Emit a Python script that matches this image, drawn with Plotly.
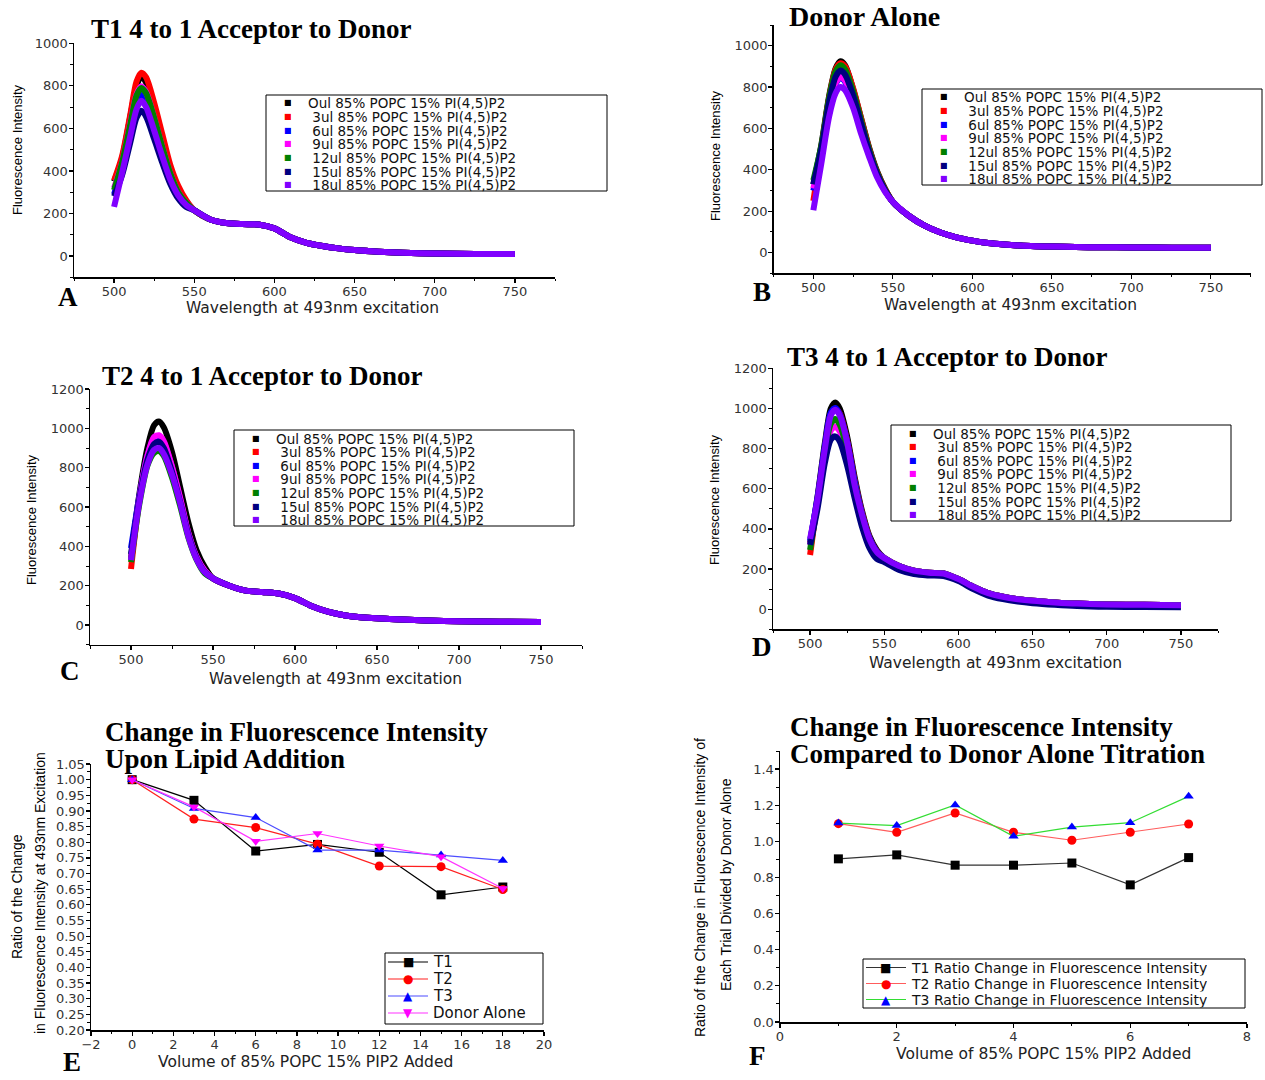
import plotly.graph_objects as go

W, H = 1265, 1080

# ---------------- data ----------------
legend_labels = [
    "Oul 85% POPC 15% PI(4,5)P2",
    "\u00a03ul 85% POPC 15% PI(4,5)P2",
    "\u00a06ul 85% POPC 15% PI(4,5)P2",
    "\u00a09ul 85% POPC 15% PI(4,5)P2",
    "\u00a012ul 85% POPC 15% PI(4,5)P2",
    "\u00a015ul 85% POPC 15% PI(4,5)P2",
    "\u00a018ul 85% POPC 15% PI(4,5)P2",
]
series_colors = ["#000000", "#ff0000", "#0000ff", "#ff00ff", "#008000", "#000080", "#8000ff"]

wl_peak = [500, 505, 510, 514, 517, 520, 525, 530, 535, 540, 545]
wl_tail = [550, 560, 570, 580, 590, 600, 610, 620, 630, 640, 650, 665, 680, 700, 725, 750]

# T1 4 to 1 Acceptor to Donor (panel A), peak region per addition (0..18 ul)
t1_peak = [
    [350, 460, 650, 800, 845, 815, 690, 545, 410, 315, 255],
    [355, 470, 660, 820, 862, 840, 720, 575, 430, 330, 262],
    [290, 420, 590, 720, 757, 725, 610, 485, 370, 290, 242],
    [320, 440, 620, 760, 798, 770, 650, 515, 390, 300, 250],
    [310, 440, 615, 755, 790, 765, 650, 515, 390, 300, 250],
    [280, 380, 530, 650, 683, 655, 550, 440, 340, 270, 230],
    [231, 390, 560, 690, 730, 700, 590, 470, 360, 285, 240],
]
t1_tail = [215, 172, 155, 150, 148, 130, 88, 62, 47, 36, 28, 20, 15, 12, 10, 10]

# Donor Alone (panel B)
donor_peak = [
    [330, 520, 760, 890, 925, 905, 790, 650, 510, 395, 310],
    [250, 500, 750, 885, 915, 900, 795, 650, 505, 390, 308],
    [300, 480, 700, 815, 845, 825, 730, 600, 475, 375, 300],
    [310, 480, 705, 820, 850, 830, 735, 605, 478, 376, 300],
    [350, 515, 750, 875, 905, 885, 780, 640, 500, 388, 305],
    [330, 500, 730, 850, 880, 860, 760, 625, 490, 382, 303],
    [205, 430, 660, 770, 800, 785, 700, 575, 465, 365, 295],
]
donor_tail = [245, 178, 130, 97, 74, 58, 46, 39, 34, 31, 29, 27, 26, 25, 24, 23]

# T2 4 to 1 Acceptor to Donor (panel C)
t2_peak = [
    [340, 660, 900, 1015, 1035, 1005, 880, 700, 520, 380, 295],
    [285, 630, 850, 945, 955, 925, 800, 640, 465, 345, 275],
    [390, 650, 860, 950, 958, 928, 802, 640, 465, 345, 275],
    [330, 640, 860, 955, 965, 935, 805, 645, 468, 347, 276],
    [320, 610, 810, 875, 885, 860, 750, 605, 445, 332, 262],
    [360, 635, 840, 920, 932, 900, 780, 625, 458, 340, 270],
    [330, 620, 815, 890, 900, 870, 765, 620, 450, 335, 268],
]
t2_tail = [237, 200, 175, 168, 160, 137, 97, 68, 50, 40, 34, 28, 23, 19, 17, 16]

# T3 4 to 1 Acceptor to Donor (panel D)
t3_peak = [
    [330, 560, 830, 1000, 1030, 1000, 860, 660, 490, 365, 295],
    [270, 545, 810, 975, 1000, 975, 840, 645, 480, 358, 290],
    [340, 555, 815, 980, 1002, 972, 835, 640, 476, 356, 288],
    [320, 520, 760, 890, 910, 885, 770, 605, 455, 342, 280],
    [295, 530, 780, 925, 947, 920, 795, 620, 465, 348, 282],
    [320, 500, 730, 845, 861, 835, 715, 555, 410, 305, 250],
    [350, 545, 800, 965, 993, 965, 830, 620, 470, 350, 285],
]
t3_tail = [255, 215, 192, 182, 178, 150, 112, 80, 62, 50, 42, 34, 28, 24, 22, 20]
t3_tail_15ul = [235, 195, 175, 168, 165, 140, 100, 68, 50, 38, 30, 22, 16, 12, 11, 10]

# Panel E: ratio of change vs volume added
volume = [0, 3, 6, 9, 12, 15, 18]
e_t1 = [1.000, 0.934, 0.772, 0.793, 0.768, 0.632, 0.657]
e_t2 = [1.000, 0.874, 0.847, 0.794, 0.724, 0.722, 0.649]
e_t3 = [1.000, 0.908, 0.879, 0.775, 0.775, 0.759, 0.742]
e_donor = [1.000, 0.913, 0.803, 0.828, 0.788, 0.754, 0.652]
e_names = ["T1", "T2", "T3", "Donor Alone"]

# Panel F: ratio compared to donor alone
addition = [1, 2, 3, 4, 5, 6, 7]
f_t1 = [0.903, 0.925, 0.868, 0.868, 0.880, 0.759, 0.910]
f_t2 = [1.098, 1.050, 1.157, 1.050, 1.006, 1.050, 1.096]
f_t3 = [1.101, 1.087, 1.201, 1.028, 1.079, 1.103, 1.249]
f_names = ["T1 Ratio Change in Fluorescence Intensity",
           "T2 Ratio Change in Fluorescence Intensity",
           "T3 Ratio Change in Fluorescence Intensity"]

# ---------------- helpers ----------------
def xdom(l, r):
    return [l / W, r / W]

def ydom(t, b):
    return [1 - b / H, 1 - t / H]

def px(x):
    return x / W

def py(y):
    return 1 - y / H

SANS = "DejaVu Sans"
ARIAL = "Liberation Sans"
SERIF = "Liberation Serif"

annotations = []
shapes = []

def ann(text, x, y, size, family=SANS, color="#222222", xanchor="center",
        yanchor="middle", angle=0, height=None):
    a = dict(text=text, x=px(x), y=py(y), xref="paper", yref="paper",
             showarrow=False, xanchor=xanchor, yanchor=yanchor,
             textangle=angle, borderpad=0,
             font=dict(family=family, size=size, color=color))
    if height is not None:
        a["height"] = height
    annotations.append(a)

def axis_style(**kw):
    d = dict(showline=True, linecolor="black", linewidth=1.5, ticks="outside",
             ticklen=4, tickwidth=1.2, tickcolor="black", showgrid=False,
             zeroline=False, fixedrange=True, automargin=False,
             ticklabelstandoff=-2,
             tickfont=dict(family=SANS, size=13, color="#333333"))
    d.update(kw)
    return d

def minor(dt):
    return dict(dtick=dt, ticks="outside", ticklen=2.5, tickwidth=1, tickcolor="black",
                showgrid=False)

fig = go.Figure()

# ---------------- spectra panels ----------------
spectra = [
    ("x", "y", t1_peak, [t1_tail] * 7),
    ("x2", "y2", donor_peak, [donor_tail] * 7),
    ("x3", "y3", t2_peak, [t2_tail] * 7),
    ("x4", "y4", t3_peak, [t3_tail] * 5 + [t3_tail_15ul, t3_tail]),
]
for xa, ya, peaks, tails in spectra:
    for i in range(7):
        fig.add_trace(go.Scatter(
            x=wl_peak + wl_tail, y=peaks[i] + tails[i], mode="lines",
            line=dict(color=series_colors[i], width=6, shape="spline", smoothing=0.8),
            xaxis=xa, yaxis=ya, showlegend=False, hoverinfo="skip"))

# ---------------- panel E ----------------
e_vals = [e_t1, e_t2, e_t3, e_donor]
e_line_colors = ["#000000", "#ff2020", "#4d4dff", "#ff33ff"]
e_marker_colors = ["#000000", "#ff0000", "#0000ff", "#ff00ff"]
e_symbols = ["square", "circle", "triangle-up", "triangle-down"]
for vals, lc, mc, sym in zip(e_vals, e_line_colors, e_marker_colors, e_symbols):
    fig.add_trace(go.Scatter(
        x=volume, y=vals, mode="lines+markers",
        line=dict(color=lc, width=1.2),
        marker=dict(symbol=sym, size=9, color=mc),
        xaxis="x5", yaxis="y5", showlegend=False, hoverinfo="skip"))

# ---------------- panel F ----------------
f_vals = [f_t1, f_t2, f_t3]
f_line_colors = ["#333333", "#ff5c5c", "#33dd33"]
f_marker_colors = ["#000000", "#ff0000", "#0000ff"]
f_symbols = ["square", "circle", "triangle-up"]
for vals, lc, mc, sym in zip(f_vals, f_line_colors, f_marker_colors, f_symbols):
    fig.add_trace(go.Scatter(
        x=addition, y=vals, mode="lines+markers",
        line=dict(color=lc, width=1.2),
        marker=dict(symbol=sym, size=9, color=mc),
        xaxis="x6", yaxis="y6", showlegend=False, hoverinfo="skip"))

# ---------------- axes ----------------
spec_x = dict(range=[475, 775], tick0=500, dtick=50, minor=minor(25))
fig.update_layout(
    xaxis=axis_style(domain=xdom(74, 555), anchor="y", **spec_x),
    yaxis=axis_style(domain=ydom(43.3, 277.3), anchor="x", range=[-100, 1000],
                     tick0=0, dtick=200, minor=minor(100)),
    xaxis2=axis_style(domain=xdom(773.6, 1250.6), anchor="y2", **spec_x),
    yaxis2=axis_style(domain=ydom(25, 273.3), anchor="x2", range=[-100, 1100],
                      tick0=0, dtick=200, minor=minor(100)),
    xaxis3=axis_style(domain=xdom(90, 582), anchor="y3", **spec_x),
    yaxis3=axis_style(domain=ydom(389, 644.7), anchor="x3", range=[-100, 1200],
                      tick0=0, dtick=200, minor=minor(100)),
    xaxis4=axis_style(domain=xdom(773, 1218), anchor="y4", **spec_x),
    yaxis4=axis_style(domain=ydom(368.3, 629.3), anchor="x4", range=[-100, 1200],
                      tick0=0, dtick=200, minor=minor(100)),
    xaxis5=axis_style(domain=xdom(91, 544), anchor="y5", range=[-2, 20], tick0=0,
                      dtick=2, minor=minor(1)),
    yaxis5=axis_style(domain=ydom(764, 1030), anchor="x5", range=[0.2, 1.0501],
                      tick0=0.2, dtick=0.05, tickformat=".2f", minor=minor(0.025)),
    xaxis6=axis_style(domain=xdom(780, 1247), anchor="y6", range=[0, 8], tick0=0,
                      dtick=2, minor=minor(1)),
    yaxis6=axis_style(domain=ydom(751, 1022), anchor="x6", range=[0, 1.5], tick0=0,
                      dtick=0.2, tickformat=".1f", minor=minor(0.1)),
)

# ---------------- titles, labels ----------------
TS = 27
ann("<b>T1 4 to 1 Acceptor to Donor</b>", 90, 29, TS, SERIF, "black", "left")
ann("<b>Donor Alone</b>", 788, 17, 28, SERIF, "black", "left")
ann("<b>T2 4 to 1 Acceptor to Donor</b>", 101, 376, TS, SERIF, "black", "left")
ann("<b>T3 4 to 1 Acceptor to Donor</b>", 786, 357, TS, SERIF, "black", "left")
ann("<b>Change in Fluorescence Intensity</b>", 104, 732, TS, SERIF, "black", "left")
ann("<b>Upon Lipid Addition</b>", 104, 759, TS, SERIF, "black", "left")
ann("<b>Change in Fluorescence Intensity</b>", 789, 727, TS, SERIF, "black", "left")
ann("<b>Compared to Donor Alone Titration</b>", 789, 754, TS, SERIF, "black", "left")

LS = 27
for letter, lx, ly in [("A", 68, 297), ("B", 762, 292), ("C", 70, 671),
                       ("D", 762, 647), ("E", 72, 1062), ("F", 757, 1056)]:
    ann("<b>%s</b>" % letter, lx, ly, LS, SERIF, "black")

XL = 15.5
wl_title = "Wavelength at 493nm excitation"
vol_title = "Volume of 85% POPC 15% PIP2 Added"
ann(wl_title, 312, 308, XL)
ann(wl_title, 1010, 305, XL)
ann(wl_title, 335, 679, XL)
ann(wl_title, 995, 663, XL)
ann(vol_title, 305, 1062, XL)
ann(vol_title, 1043, 1054, XL)

fi = "Fluorescence Intensity"
ann(fi, 18, 150, 13, ARIAL, "black", angle=-90)
ann(fi, 716, 155, 13, ARIAL, "black", angle=-90)
ann(fi, 32, 520, 13, ARIAL, "black", angle=-90)
ann(fi, 714, 500, 13, ARIAL, "black", angle=-90)
ann("Ratio of the Change", 17, 897, 14, ARIAL, "black", angle=-90)
ann("in Fluorescence Intensity at 493nm Excitation", 40, 893, 14, ARIAL, "black", angle=-90)
ann("Ratio of the Change in Fluorescence Intensity of", 700, 888, 14, ARIAL, "black", angle=-90)
ann("Each Trial Divided by Donor Alone", 726, 885, 14, ARIAL, "black", angle=-90)

# ---------------- legends ----------------
def rect(l, t, r, b):
    shapes.append(dict(type="rect", xref="paper", yref="paper", x0=px(l), x1=px(r),
                       y0=py(b), y1=py(t), line=dict(color="black", width=1),
                       fillcolor="rgba(0,0,0,0)"))

ROW = 13.6

def spectral_legend(left, top, width=341, height=96):
    rect(left, top, left + width, top + height)
    for i, (lab, col) in enumerate(zip(legend_labels, series_colors)):
        yc = top + 8 + i * ROW
        ann("\u25a0", left + 22, yc, 8, SANS, col, height=ROW - 0.4)
        ann(lab, left + 41, yc, 13.5, SANS, "#111111", "left", height=ROW - 0.4)

spectral_legend(266, 95)
spectral_legend(922, 89, 340)
spectral_legend(234, 430, 340)
spectral_legend(891, 425, 340)

glyph = {"square": "\u25a0", "circle": "\u25cf", "triangle-up": "\u25b2",
         "triangle-down": "\u25bc"}

def line_legend(left, top, right, bottom, names, lcolors, mcolors, symbols,
                first, step, size, gsize):
    rect(left, top, right, bottom)
    for i, (nm, lc, mc, sym) in enumerate(zip(names, lcolors, mcolors, symbols)):
        yc = first + i * step
        shapes.append(dict(type="line", xref="paper", yref="paper", x0=px(left + 3),
                           x1=px(left + 43), y0=py(yc), y1=py(yc),
                           line=dict(color=lc, width=1.2)))
        ann(glyph[sym], left + 23, yc, gsize, SANS, mc, height=step - 0.5)
        ann(nm, left + 47, yc, size, SANS, "#111111", "left", height=step - 0.5)

line_legend(385, 953, 543, 1024, e_names, e_line_colors, e_marker_colors, e_symbols,
            962, 17, 15, 12)
line_legend(863, 959, 1245, 1008, f_names, f_line_colors, f_marker_colors, f_symbols,
            967.5, 16, 14, 12)

fig.update_layout(
    width=W, height=H, margin=dict(l=0, r=0, t=0, b=0, pad=0, autoexpand=False),
    paper_bgcolor="white", plot_bgcolor="rgba(0,0,0,0)",
    showlegend=False, annotations=annotations, shapes=shapes,
)

fig.write_html("out.html",
               config={"displayModeBar": False, "staticPlot": True},
               post_script="document.body.style.margin='0';"
                           "document.body.style.overflow='hidden';")
